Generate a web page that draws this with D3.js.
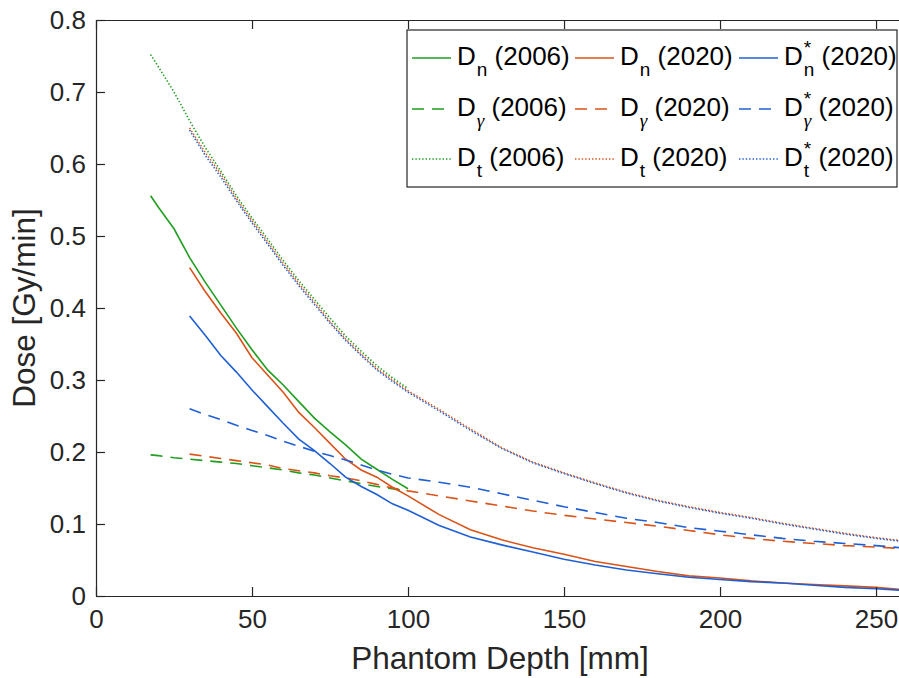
<!DOCTYPE html>
<html>
<head>
<meta charset="utf-8">
<script src="https://cdn.jsdelivr.net/npm/d3@7"></script>
<style>
  body { margin: 0; background: #fff; }
  svg { font-family: "Liberation Sans", Arial, Helvetica, sans-serif; }
</style>
</head>
<body>
<div class="canvas"></div>
<script>
// depth grids (mm)
const depth2006 = [17.5, 20, 25, 30, 35, 40, 45, 50, 55, 60, 65, 70, 75, 80, 85, 90, 95, 100];
const depth2020 = [30, 35, 40, 45, 50, 55, 60, 65, 70, 75, 80, 85, 90, 95, 100,
    110, 120, 130, 140, 150, 160, 170, 180, 190, 200, 210, 220, 230, 240, 250, 258];

// dose values (Gy/min)
const dn2006 = [0.556, 0.540, 0.510, 0.470, 0.436, 0.404, 0.372, 0.342, 0.314, 0.293, 0.270, 0.247, 0.228, 0.210, 0.190, 0.176, 0.162, 0.149];
const dg2006 = [0.196, 0.195, 0.192, 0.190, 0.188, 0.186, 0.184, 0.181, 0.178, 0.175, 0.171, 0.168, 0.164, 0.160, 0.156, 0.152, 0.149, 0.145];
const dt2006 = [0.752, 0.735, 0.700, 0.660, 0.623, 0.590, 0.556, 0.525, 0.496, 0.466, 0.438, 0.412, 0.386, 0.361, 0.340, 0.320, 0.303, 0.288];

const dn2020 = [0.456, 0.423, 0.393, 0.365, 0.331, 0.307, 0.283, 0.255, 0.234, 0.212, 0.190, 0.175, 0.165, 0.151, 0.139,
    0.113, 0.092, 0.078, 0.067, 0.058, 0.048, 0.041, 0.034, 0.028, 0.025, 0.021, 0.018, 0.016, 0.014, 0.012, 0.009];
const dg2020 = [0.197, 0.194, 0.191, 0.188, 0.185, 0.182, 0.177, 0.174, 0.171, 0.167, 0.164, 0.160, 0.155, 0.150, 0.146,
    0.139, 0.132, 0.125, 0.118, 0.112, 0.107, 0.102, 0.097, 0.091, 0.085, 0.080, 0.076, 0.073, 0.070, 0.068, 0.066];
const dt2020 = [0.650, 0.616, 0.586, 0.552, 0.521, 0.492, 0.462, 0.434, 0.408, 0.381, 0.357, 0.336, 0.316, 0.300, 0.285,
    0.259, 0.232, 0.206, 0.186, 0.171, 0.157, 0.144, 0.133, 0.124, 0.116, 0.109, 0.101, 0.094, 0.087, 0.081, 0.077];

const dnStar2020 = [0.389, 0.362, 0.334, 0.311, 0.286, 0.263, 0.240, 0.218, 0.202, 0.184, 0.165, 0.152, 0.141, 0.128, 0.119,
    0.098, 0.082, 0.071, 0.061, 0.051, 0.043, 0.036, 0.031, 0.026, 0.023, 0.020, 0.018, 0.015, 0.012, 0.010, 0.008];
const dgStar2020 = [0.260, 0.252, 0.245, 0.237, 0.230, 0.223, 0.215, 0.208, 0.201, 0.195, 0.189, 0.182, 0.175, 0.169, 0.164,
    0.158, 0.151, 0.142, 0.133, 0.124, 0.116, 0.108, 0.102, 0.095, 0.090, 0.085, 0.080, 0.076, 0.073, 0.070, 0.067];
const dtStar2020 = [0.647, 0.612, 0.582, 0.549, 0.518, 0.489, 0.459, 0.431, 0.405, 0.379, 0.355, 0.334, 0.314, 0.298, 0.283,
    0.257, 0.230, 0.205, 0.185, 0.170, 0.156, 0.143, 0.132, 0.123, 0.115, 0.108, 0.100, 0.093, 0.086, 0.080, 0.076];

const xTicks = [0, 50, 100, 150, 200, 250];
const yTicks = [0, 0.1, 0.2, 0.3, 0.4, 0.5, 0.6, 0.7, 0.8];

const green = "#1f9e1f", orange = "#d95319", blue = "#1f5fd3";
const styles = {
    solid: null,
    dashed: "12,8",
    dotted: "1.4,2"
};

const series = [
    { sub: "n", star: false, year: "2006", color: green, dash: "solid", x: depth2006, y: dn2006 },
    { sub: "γ", star: false, year: "2006", color: green, dash: "dashed", x: depth2006, y: dg2006 },
    { sub: "t", star: false, year: "2006", color: green, dash: "dotted", x: depth2006, y: dt2006 },
    { sub: "n", star: false, year: "2020", color: orange, dash: "solid", x: depth2020, y: dn2020 },
    { sub: "γ", star: false, year: "2020", color: orange, dash: "dashed", x: depth2020, y: dg2020 },
    { sub: "t", star: false, year: "2020", color: orange, dash: "dotted", x: depth2020, y: dt2020 },
    { sub: "n", star: true, year: "2020", color: blue, dash: "solid", x: depth2020, y: dnStar2020 },
    { sub: "γ", star: true, year: "2020", color: blue, dash: "dashed", x: depth2020, y: dgStar2020 },
    { sub: "t", star: true, year: "2020", color: blue, dash: "dotted", x: depth2020, y: dtStar2020 }
];

const dims = { width: 899, height: 678 };
const plot = { left: 96, top: 20, right: 901, bottom: 596 };
const axisColor = "#262626";

const svg = d3.select(".canvas").append("svg")
    .attr("width", dims.width)
    .attr("height", dims.height);

const x = d3.scaleLinear().domain([0, 258]).range([plot.left, plot.right]);
const y = d3.scaleLinear().domain([0, 0.8]).range([plot.bottom, plot.top]);

// curves
const line = d3.line().x((d) => x(d[0])).y((d) => y(d[1]));
svg.append("g").selectAll("path")
    .data(series)
    .enter().append("path")
    .attr("d", (s) => line(s.x.map((v, i) => [v, s.y[i]])))
    .attr("fill", "none")
    .attr("stroke", (s) => s.color)
    .attr("stroke-width", 1.6)
    .attr("stroke-dasharray", (s) => styles[s.dash]);

// axes (MATLAB-like box with inward ticks)
const tickLen = 9;
const xBottom = svg.append("g")
    .attr("transform", `translate(0,${plot.bottom})`)
    .call(d3.axisBottom(x).tickValues(xTicks).tickSizeInner(-tickLen).tickSizeOuter(0).tickPadding(14));
const xTop = svg.append("g")
    .attr("transform", `translate(0,${plot.top})`)
    .call(d3.axisTop(x).tickValues(xTicks).tickSizeInner(-tickLen).tickSizeOuter(0).tickFormat(""));
const yLeft = svg.append("g")
    .attr("transform", `translate(${plot.left},0)`)
    .call(d3.axisLeft(y).tickValues(yTicks).tickSizeInner(-tickLen).tickSizeOuter(0).tickPadding(10)
        .tickFormat((d) => d === 0 ? "0" : d3.format(".1f")(d)));

[xBottom, xTop, yLeft].forEach((g) => {
    g.select(".domain").attr("stroke", axisColor).attr("stroke-width", 1.2);
    g.selectAll(".tick line").attr("stroke", axisColor).attr("stroke-width", 1.2);
    g.selectAll("text").attr("fill", axisColor).style("font-size", "26px");
});
xBottom.selectAll("text").attr("dy", "0.71em");

svg.append("text")
    .attr("x", 500)
    .attr("y", 669)
    .attr("text-anchor", "middle")
    .attr("fill", axisColor)
    .style("font-size", "31.5px")
    .text("Phantom Depth [mm]");

svg.append("text")
    .attr("transform", `translate(35,${(plot.top + plot.bottom) / 2}) rotate(-90)`)
    .attr("text-anchor", "middle")
    .attr("fill", axisColor)
    .style("font-size", "31.5px")
    .text("Dose [Gy/min]");

// legend
const legendBox = { x: 407, y: 30, w: 490, h: 157 };
const colX = [412, 575, 739];
const rowY = [58, 109, 159];
const legend = svg.append("g");
legend.append("rect")
    .attr("x", legendBox.x).attr("y", legendBox.y)
    .attr("width", legendBox.w).attr("height", legendBox.h)
    .attr("fill", "#fff").attr("stroke", axisColor).attr("stroke-width", 1.2);

function measure(txt, size, style) {
    const t = svg.append("text").style("font-size", size).style("font-family", style.family || null)
        .style("font-style", style.italic ? "italic" : "normal").text(txt);
    const w = t.node().getComputedTextLength();
    t.remove();
    return w;
}

series.forEach((s, i) => {
    const cx = colX[Math.floor(i / 3)];
    const cy = rowY[i % 3];
    const item = legend.append("g");
    item.append("line")
        .attr("x1", cx).attr("x2", cx + 39)
        .attr("y1", cy).attr("y2", cy)
        .attr("stroke", s.color)
        .attr("stroke-width", 1.6)
        .attr("stroke-dasharray", styles[s.dash]);

    const isGamma = s.sub === "γ";
    const subStyle = isGamma ? { family: "'Liberation Serif', 'DejaVu Serif', serif", italic: true } : {};
    const subW = measure(s.sub, "19px", subStyle);
    const supW = s.star ? measure("*", "19px", {}) : 0;

    const t = item.append("text")
        .attr("x", cx + 45).attr("y", cy + 7)
        .attr("fill", "#000").style("font-size", "26px")
        .attr("xml:space", "preserve");
    t.append("tspan").text("D");
    t.append("tspan")
        .attr("dx", 1).attr("dy", 11)
        .style("font-size", "19px")
        .style("font-family", subStyle.family || null)
        .style("font-style", isGamma ? "italic" : null)
        .text(s.sub);
    let tail = 0;
    if (s.star) {
        t.append("tspan")
            .attr("dx", -subW).attr("dy", -22)
            .style("font-size", "19px")
            .text("*");
        tail = Math.max(0, subW - supW);
    }
    t.append("tspan")
        .attr("dx", tail)
        .attr("dy", s.star ? 11 : -11)
        .text(` (${s.year})`);
});
</script>
</body>
</html>
